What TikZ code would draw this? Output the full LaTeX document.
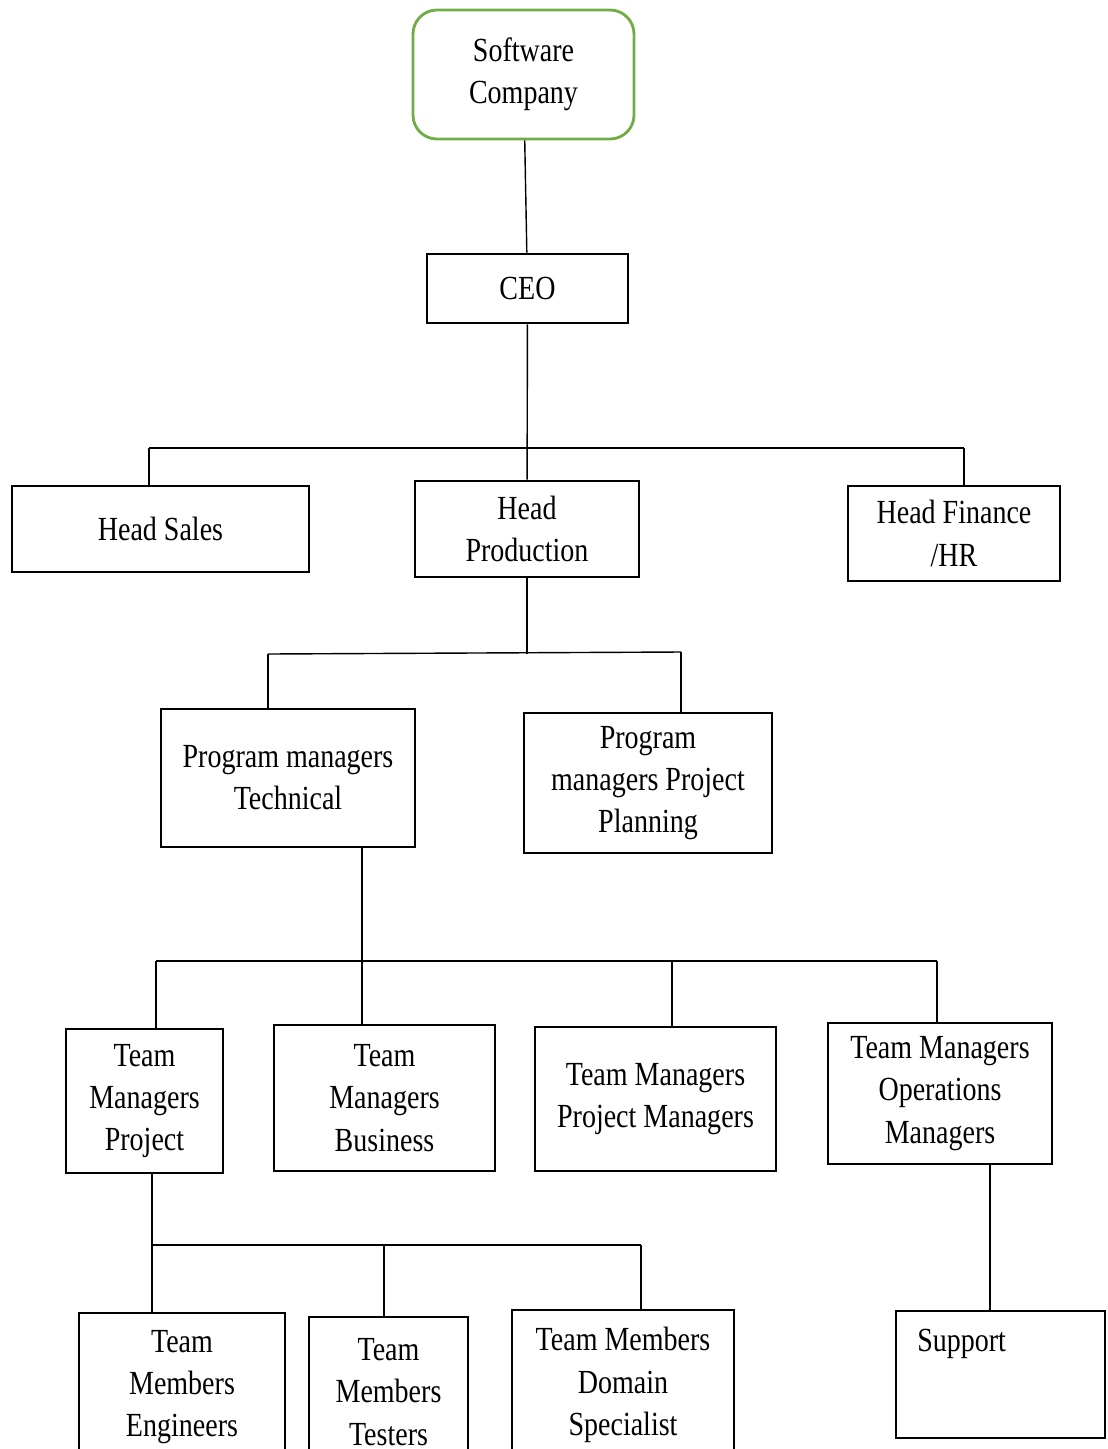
\documentclass[tikz,border=0pt]{standalone}
\usepackage{fontspec}
\setmainfont[FakeStretch=0.83]{Liberation Serif}
\definecolor{leafgreen}{HTML}{70AD47}
\begin{document}
\begin{tikzpicture}[x=0.025cm,y=-0.025cm,
	box/.style={draw,line width=2pt,inner sep=0pt,align=center,font=\fontsize{24}{30}\selectfont},
	txt/.style={inner sep=0pt,font=\fontsize{24}{30}\selectfont},
	link/.style={line width=1pt}]
	\useasboundingbox(0,0)rectangle(1107,1449);
	\clip(0,0)rectangle(1107,1449);
	
	\node (soft) at (523.5,74.5)[box,draw=leafgreen,rounded corners=0.6cm,minimum width=5.525cm,minimum height=3.225cm]{Software\\Company};
	\node (ceo) at (527.5,288.5)[box,minimum width=5.025cm,minimum height=1.725cm]{CEO};
	
	\node (hsales) at (160.5,529)[box,minimum width=7.425cm,minimum height=2.15cm]{Head Sales};
	\node (hprod) at (527,529)[box,minimum width=5.6cm,minimum height=2.4cm]{Head\\Production};
	\node (hfin) at (954,533.5)[box,minimum width=5.3cm,minimum height=2.375cm]{Head Finance\\/HR};
	
	\node (pmt) at (288,778)[box,minimum width=6.35cm,minimum height=3.45cm]{Program managers\\Technical};
	\node (pmp) at (648,783)[box,minimum width=6.2cm,minimum height=3.5cm]{Program\\managers Project\\Planning};
	
	\node (tmp) at (144.5,1101)[box,minimum width=3.925cm,minimum height=3.6cm]{Team\\Managers\\Project};
	\node (tmb) at (384.5,1098)[box,minimum width=5.525cm,minimum height=3.65cm]{Team\\Managers\\Business};
	\node (tmpm) at (655.5,1099)[box,minimum width=6.025cm,minimum height=3.6cm]{Team Managers\\Project Managers};
	\node (tmo) at (940,1093.5)[box,minimum width=5.6cm,minimum height=3.525cm]{Team Managers\\Operations\\Managers};
	
	\node (eng) at (182,1387)[box,minimum width=5.15cm,minimum height=3.7cm]{Team\\Members\\Engineers};
	\node (tst) at (388.5,1392)[box,minimum width=3.975cm,minimum height=3.75cm]{Team\\Members\\Testers};
	\node (dom) at (623,1385)[box,minimum width=5.55cm,minimum height=3.75cm]{Team Members\\Domain\\Specialist};
	\node (support) at (1000.5,1374.5)[box,minimum width=5.225cm,minimum height=3.175cm]{};
	\node (supportlbl) at (917,1344)[txt,anchor=west]{Support};
	
	\coordinate (b1l) at (149,448);
	\coordinate (b1r) at (964,448);
	\coordinate (b2l) at (268,654);
	\coordinate (b2r) at (681,652);
	\coordinate (pmtfoot) at (362,847);
	\coordinate (b3l) at (156,961);
	\coordinate (b3m) at (672,961);
	\coordinate (b3r) at (937,961);
	\coordinate (tmpfoot) at (152,1173);
	\coordinate (b4m) at (384,1244);
	\coordinate (b4r) at (641,1245);
	\coordinate (tmofoot) at (990,1164);
	
	\draw[link](soft)--(ceo);
	\draw[link](ceo)--(hprod);
	\draw[link](b1l)--(b1r);
	\draw[link](b1l)--(b1l|-hsales.north);
	\draw[link](b1r)--(b1r|-hfin.north);
	
	\draw[link](hprod)--(hprod|-b2l);
	\draw[link](b2l)--(b2r);
	\draw[link](b2l)--(b2l|-pmt.north);
	\draw[link](b2r)--(b2r|-pmp.north);
	
	\draw[link](pmtfoot)--(pmtfoot|-tmb.north);
	\draw[link](b3l)--(b3r);
	\draw[link](b3l)--(b3l|-tmp.north);
	\draw[link](b3m)--(b3m|-tmpm.north);
	\draw[link](b3r)--(b3r|-tmo.north);
	
	\draw[link](tmpfoot)--(tmpfoot|-eng.north);
	\draw[link](tmpfoot|-b4r)--(b4r);
	\draw[link](b4m)--(b4m|-tst.north);
	\draw[link](b4r)--(b4r|-dom.north);
	
	\draw[link](tmofoot)--(tmofoot|-support.north);
\end{tikzpicture}
\end{document}
